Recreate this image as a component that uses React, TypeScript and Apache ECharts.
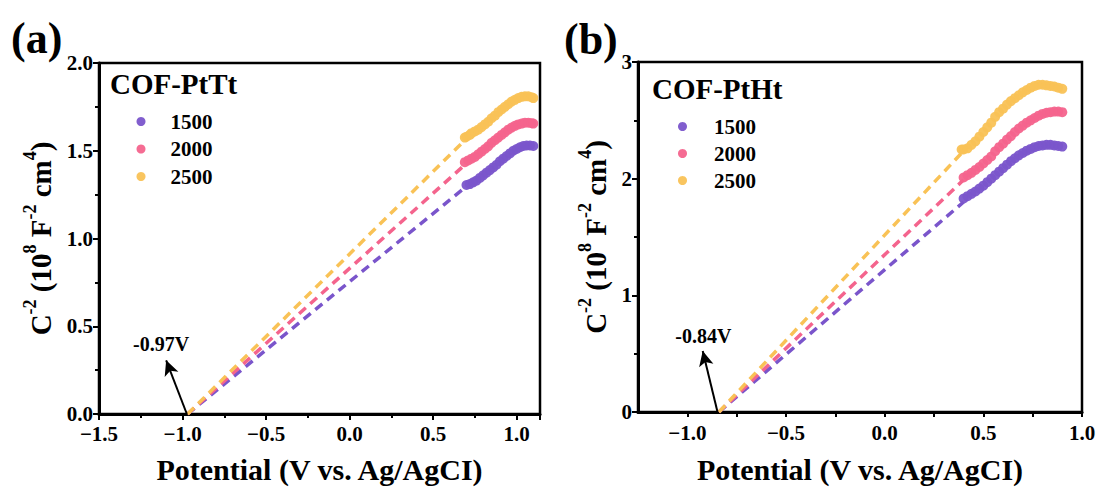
import React, { useEffect, useRef } from "react";
import * as echarts from "echarts";

const FONT = "'Liberation Serif', 'Times New Roman', serif";

const seriesNames = ["1500", "2000", "2500"];
const colors = ["#7A55CB", "#F4648D", "#F9C256"];

// Panel (a) COF-PtTt
const a1500: [number, number][] = [
  [0.70, 1.305], [0.72, 1.31], [0.74, 1.32], [0.76, 1.33], [0.78, 1.345], [0.80, 1.36],
  [0.82, 1.375], [0.84, 1.39], [0.86, 1.405], [0.88, 1.42], [0.90, 1.44], [0.92, 1.455],
  [0.94, 1.47], [0.96, 1.485], [0.98, 1.50], [1.00, 1.51], [1.02, 1.52], [1.04, 1.527],
  [1.06, 1.53], [1.08, 1.53], [1.10, 1.527],
];
const a2000: [number, number][] = [
  [0.69, 1.435], [0.71, 1.445], [0.73, 1.455], [0.75, 1.465], [0.77, 1.48], [0.79, 1.495],
  [0.81, 1.51], [0.83, 1.525], [0.85, 1.545], [0.87, 1.56], [0.89, 1.575], [0.91, 1.59],
  [0.93, 1.605], [0.95, 1.62], [0.97, 1.632], [0.99, 1.642], [1.01, 1.65], [1.03, 1.655],
  [1.05, 1.66], [1.07, 1.66], [1.09, 1.657], [1.10, 1.655],
];
const a2500: [number, number][] = [
  [0.69, 1.575], [0.70, 1.58], [0.72, 1.59], [0.73, 1.60], [0.75, 1.61], [0.77, 1.62],
  [0.79, 1.635], [0.81, 1.65], [0.83, 1.665], [0.85, 1.685], [0.87, 1.70], [0.89, 1.72],
  [0.91, 1.735], [0.93, 1.75], [0.95, 1.765], [0.97, 1.78], [0.99, 1.79], [1.01, 1.80],
  [1.03, 1.807], [1.05, 1.81], [1.07, 1.81], [1.09, 1.805], [1.10, 1.80],
];
const aFits: [number, number][][] = [
  [[-0.97, 0], [0.69, 1.29]],
  [[-0.97, 0], [0.69, 1.42]],
  [[-0.97, 0], [0.69, 1.56]],
];

// Panel (b) COF-PtHt
const b1500: [number, number][] = [
  [0.40, 1.83], [0.42, 1.85], [0.44, 1.87], [0.46, 1.89], [0.48, 1.915], [0.50, 1.94],
  [0.52, 1.97], [0.54, 2.00], [0.56, 2.03], [0.58, 2.06], [0.60, 2.09], [0.62, 2.12],
  [0.64, 2.15], [0.66, 2.175], [0.68, 2.20], [0.70, 2.22], [0.72, 2.24], [0.74, 2.255],
  [0.76, 2.27], [0.78, 2.28], [0.80, 2.285], [0.82, 2.29], [0.84, 2.29], [0.86, 2.285],
  [0.88, 2.28], [0.90, 2.275],
];
const b2000: [number, number][] = [
  [0.40, 2.01], [0.42, 2.03], [0.44, 2.05], [0.46, 2.075], [0.48, 2.10], [0.50, 2.13],
  [0.52, 2.16], [0.54, 2.19], [0.56, 2.235], [0.58, 2.27], [0.60, 2.30], [0.62, 2.335],
  [0.64, 2.365], [0.66, 2.40], [0.68, 2.43], [0.70, 2.455], [0.72, 2.48], [0.74, 2.50],
  [0.76, 2.52], [0.78, 2.54], [0.80, 2.555], [0.82, 2.565], [0.84, 2.57], [0.86, 2.575],
  [0.88, 2.575], [0.90, 2.57],
];
const b2500: [number, number][] = [
  [0.39, 2.25], [0.40, 2.25], [0.42, 2.26], [0.44, 2.29], [0.46, 2.32], [0.48, 2.36], [0.50, 2.40],
  [0.52, 2.44], [0.54, 2.48], [0.56, 2.53], [0.58, 2.57], [0.60, 2.60], [0.62, 2.635],
  [0.64, 2.665], [0.66, 2.69], [0.68, 2.715], [0.70, 2.74], [0.72, 2.76], [0.74, 2.78],
  [0.76, 2.795], [0.78, 2.805], [0.80, 2.805], [0.82, 2.80], [0.84, 2.795], [0.86, 2.79],
  [0.88, 2.78], [0.90, 2.77],
];
const bFits: [number, number][][] = [
  [[-0.84, 0], [0.40, 1.80]],
  [[-0.84, 0], [0.40, 1.99]],
  [[-0.84, 0], [0.39, 2.22]],
];

const annotA = { text: "-0.97V", label: [-1.128, 0.40], tail: [-0.974, 0], tip: [-1.098, 0.306] };
const annotB = { text: "-0.84V", label: [-0.919, 0.652], tail: [-0.847, 0], tip: [-0.922, 0.523] };

const fmtNum = (v: number, d: number) => {
  const s = Math.abs(v).toFixed(d);
  return v < -1e-9 ? "\u2212" + s : s;
};

export default function App() {
  const ref = useRef<HTMLDivElement>(null);
  useEffect(() => {
    if (!ref.current) return;
    const chart = echarts.init(ref.current, undefined, { renderer: "svg" });

    const axisLine = { show: true, onZero: false, lineStyle: { color: "#000", width: 3 } };
    const tickLbl = { color: "#000", fontFamily: FONT, fontWeight: 700, fontSize: 21 };
    const yName = "{b|C}{s|-2}{b| (10}{s|8}{b| F}{s|-2}{b| cm}{s|4}{b|)}";
    const nameRich = {
      b: { fontFamily: FONT, fontWeight: 700, fontSize: 29, lineHeight: 34, color: "#000", verticalAlign: "bottom" },
      s: { fontFamily: FONT, fontWeight: 700, fontSize: 18, lineHeight: 34, color: "#000", verticalAlign: "top" },
    };
    const xNameStyle = { fontFamily: FONT, fontWeight: 700, fontSize: 30, color: "#000" };

    const scatter = (data: [number, number][], i: number, axis: number) => ({
      type: "scatter",
      name: seriesNames[i],
      xAxisIndex: axis,
      yAxisIndex: axis,
      data,
      symbolSize: 10,
      itemStyle: { color: colors[i], opacity: 0.95 },
      z: 5,
    });
    const fit = (data: [number, number][], i: number, axis: number) => ({
      type: "line",
      name: "fit" + axis + "_" + i,
      xAxisIndex: axis,
      yAxisIndex: axis,
      data,
      symbol: "none",
      lineStyle: { color: colors[i], width: 3.5, type: [9, 6] },
      z: 3,
    });
    const annot = (a: any, axis: number) => ({
      type: "scatter",
      name: "annot" + axis,
      xAxisIndex: axis,
      yAxisIndex: axis,
      data: [],
      markLine: {
        silent: true,
        symbol: ["none", "arrow"],
        symbolSize: [11, 15],
        label: { show: false },
        lineStyle: { color: "#000", width: 2, type: "solid" },
        data: [[{ coord: a.tail }, { coord: a.tip }]],
      },
      markPoint: {
        symbol: "circle",
        symbolSize: 0,
        label: {
          show: true,
          formatter: a.text,
          color: "#000",
          fontFamily: FONT,
          fontWeight: 700,
          fontSize: 20,
        },
        data: [{ coord: a.label }],
      },
      z: 6,
    });

    const legendBase = {
      orient: "vertical",
      icon: "circle",
      itemWidth: 9,
      itemHeight: 9,
      data: seriesNames,
      textStyle: { fontFamily: FONT, fontWeight: 700, fontSize: 21, lineHeight: 21, color: "#000" },
      selectedMode: false,
    };

    chart.setOption({
      animation: false,
      backgroundColor: "#fff",
      grid: [
        { left: 99, top: 63, width: 441, height: 353, show: true, borderColor: "#000", borderWidth: 2.5, backgroundColor: "transparent" },
        { left: 638, top: 62, width: 444, height: 350, show: true, borderColor: "#000", borderWidth: 2.5, backgroundColor: "transparent" },
      ],
      xAxis: [
        {
          type: "value", gridIndex: 0, min: -1.5, max: 1.14, interval: 0.5,
          axisLine, splitLine: { show: false },
          axisTick: { show: true, length: 6, lineStyle: { width: 2, color: "#000" } },
          minorTick: { show: true, splitNumber: 2, length: 4, lineStyle: { width: 2, color: "#000" } },
          axisLabel: { ...tickLbl, margin: 9, formatter: (v: number) => fmtNum(v, 1) },
          name: "Potential (V vs. Ag/AgCI)", nameLocation: "middle", nameGap: 40, nameTextStyle: xNameStyle,
        },
        {
          type: "value", gridIndex: 1, min: -1.25, max: 1.0, interval: 0.25,
          axisLine, splitLine: { show: false },
          axisTick: { show: true, length: 5, lineStyle: { width: 2, color: "#000" } },
          axisLabel: {
            ...tickLbl, margin: 10, showMinLabel: false,
            formatter: (v: number) => (Math.abs(Math.round(v * 2) - v * 2) < 1e-6 ? fmtNum(v, 1) : ""),
          },
          name: "Potential (V vs. Ag/AgCI)", nameLocation: "middle", nameGap: 42, nameTextStyle: xNameStyle,
        },
      ],
      yAxis: [
        {
          type: "value", gridIndex: 0, min: 0, max: 2.0, interval: 0.5,
          axisLine, splitLine: { show: false },
          axisTick: { show: true, length: 6, lineStyle: { width: 2, color: "#000" } },
          minorTick: { show: true, splitNumber: 2, length: 4, lineStyle: { width: 2, color: "#000" } },
          axisLabel: { ...tickLbl, margin: 6, formatter: (v: number) => v.toFixed(1) },
          name: yName, nameLocation: "middle", nameGap: 44, nameRotate: 90,
          nameTextStyle: { rich: nameRich },
        },
        {
          type: "value", gridIndex: 1, min: 0, max: 3, interval: 1,
          axisLine, splitLine: { show: false },
          axisTick: { show: true, length: 6, lineStyle: { width: 2, color: "#000" } },
          minorTick: { show: true, splitNumber: 2, length: 4, lineStyle: { width: 2, color: "#000" } },
          axisLabel: { ...tickLbl, margin: 6, formatter: (v: number) => String(v) },
          name: yName, nameLocation: "middle", nameGap: 28, nameRotate: 90,
          nameTextStyle: { rich: nameRich },
        },
      ],
      legend: [
        { ...legendBase, left: 131.5, top: 106, itemGap: 6.5, textStyle: { ...legendBase.textStyle, padding: [0, 0, 0, 20] } },
        { ...legendBase, left: 673, top: 111, itemGap: 6, textStyle: { ...legendBase.textStyle, padding: [0, 0, 0, 22] } },
      ],
      graphic: [
        { type: "text", left: 11, top: 16, style: { text: "(a)", font: `bold 44px ${FONT}`, fill: "#000" } },
        { type: "text", left: 564, top: 17, style: { text: "(b)", font: `bold 44px ${FONT}`, fill: "#000" } },
        { type: "text", x: 110, y: 84, style: { text: "COF-PtTt", font: `bold 29px ${FONT}`, fill: "#000", textVerticalAlign: "middle" } },
        { type: "text", x: 652, y: 89, style: { text: "COF-PtHt", font: `bold 29px ${FONT}`, fill: "#000", textVerticalAlign: "middle" } },
      ],
      series: [
        ...aFits.map((d, i) => fit(d, i, 0)),
        ...bFits.map((d, i) => fit(d, i, 1)),
        scatter(a1500, 0, 0), scatter(a2000, 1, 0), scatter(a2500, 2, 0),
        scatter(b1500, 0, 1), scatter(b2000, 1, 1), scatter(b2500, 2, 1),
        annot(annotA, 0),
        annot(annotB, 1),
      ],
    });
    return () => chart.dispose();
  }, []);

  return (
    <div
      ref={ref}
      style={{ position: "absolute", left: 0, top: 0, width: 1102, height: 489, background: "#fff" }}
    />
  );
}
